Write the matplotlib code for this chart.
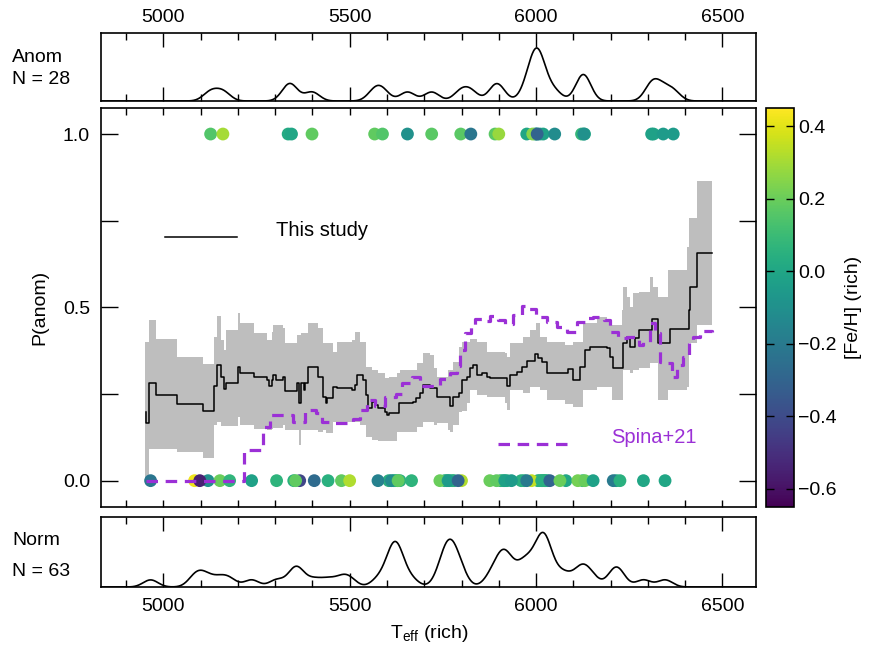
import numpy as np
import matplotlib
matplotlib.use('Agg')
import matplotlib.pyplot as plt
from matplotlib.ticker import MultipleLocator, FixedLocator

plt.rcParams['font.family'] = ['Liberation Sans', 'DejaVu Sans']
plt.rcParams['mathtext.fontset'] = 'custom'
plt.rcParams['mathtext.rm'] = 'Liberation Sans'
plt.rcParams['mathtext.it'] = 'Liberation Sans:italic'

# ---------------- data ----------------
# anomalous stars (P = 1): Teff and [Fe/H]
anom_teff = [5998, 6002, 6010, 6130, 6315,
             5127, 5160, 5335, 5344, 5399, 5567, 5588, 5655, 5720, 5798, 5825,
             5890, 5900, 5975, 5991, 6019, 6003, 6050, 6122, 6128, 6310, 6341, 6368]
anom_feh = [0.0, 0.0, 0.0, 0.0, 0.0,
            0.15, 0.30, 0.02, 0.00, 0.18, 0.18, 0.15, -0.10, 0.17, 0.17, -0.22,
            0.17, 0.28, 0.00, 0.25, -0.02, -0.30, -0.12, 0.08, -0.10, -0.02, -0.05, -0.05]

# normal stars (P = 0): Teff and [Fe/H]
norm_teff = [5350, 5605, 5618, 5622, 5628, 5635, 5755, 5760, 5768, 5775, 5780,
             5905, 5912, 5922, 5960, 5968, 6005, 6010, 6018, 6022, 6025, 6030,
             6080, 6125, 6215,
             4966, 5084, 5120, 5098, 5152, 5178, 5237, 5304, 5366, 5355, 5405,
             5442, 5478, 5500, 5576, 5612, 5630, 5666, 5742, 5764, 5800, 5791,
             5876, 5894, 5916, 5934, 5988, 5975, 6015, 6037, 6064, 6112, 6131,
             6153, 6207, 6225, 6288, 6346]
norm_feh = [0.05, 0.05, 0.05, 0.05, 0.05, 0.05, 0.05, 0.05, 0.05, 0.05, 0.05,
            0.05, 0.05, 0.05, 0.05, 0.05, 0.05, 0.05, 0.05, 0.05, 0.05, 0.05,
            0.0, 0.1, 0.0,
            -0.22, 0.42, -0.10, -0.55, 0.20, 0.07, -0.02, 0.06, -0.42, 0.18, -0.27,
            0.05, 0.18, 0.32, -0.17, -0.12, 0.18, 0.06, 0.20, -0.05, 0.32, -0.30,
            0.20, 0.18, -0.02, -0.05, 0.35, -0.20, 0.05, -0.30, 0.20, 0.22, 0.20,
            -0.02, -0.20, 0.05, 0.00, 0.00]

# "This study" running P(anom)
study_teff = [4953, 4955, 4962, 4980, 5038, 5106, 5136, 5145, 5154, 5163, 5168,
              5201, 5206, 5243, 5277, 5284, 5291, 5295, 5302, 5320, 5327, 5358,
              5363, 5369, 5377, 5381, 5389, 5416, 5429, 5436, 5440, 5456, 5467,
              5505, 5514, 5521, 5535, 5544, 5550, 5559, 5568, 5577, 5595, 5599,
              5606, 5631, 5671, 5678, 5689, 5698, 5716, 5734, 5765, 5769, 5778,
              5792, 5801, 5814, 5823, 5830, 5841, 5854, 5868, 5877, 5917, 5921,
              5930, 5948, 5962, 5975, 5998, 6006, 6015, 6029, 6087, 6100, 6118,
              6131, 6145, 6190, 6199, 6206, 6234, 6243, 6252, 6266, 6275, 6310,
              6328, 6358, 6409, 6413, 6431, 6471]
study_p = [0.199, 0.165, 0.283, 0.247, 0.221, 0.201, 0.273, 0.334, 0.300, 0.263, 0.283,
           0.329, 0.310, 0.300, 0.290, 0.273, 0.290, 0.305, 0.290, 0.300, 0.260, 0.281,
           0.225, 0.281, 0.262, 0.281, 0.329, 0.300, 0.242, 0.225, 0.238, 0.271, 0.266,
           0.262, 0.276, 0.305, 0.290, 0.247, 0.209, 0.228, 0.218, 0.209, 0.199, 0.189,
           0.194, 0.223, 0.228, 0.238, 0.252, 0.276, 0.266, 0.242, 0.240, 0.215, 0.240,
           0.252, 0.290, 0.300, 0.324, 0.334, 0.305, 0.310, 0.300, 0.295, 0.295, 0.273,
           0.305, 0.314, 0.329, 0.346, 0.365, 0.353, 0.343, 0.310, 0.322, 0.290, 0.329,
           0.377, 0.385, 0.382, 0.358, 0.324, 0.396, 0.415, 0.387, 0.411, 0.435, 0.465,
           0.396, 0.437, 0.492, 0.560, 0.656, 0.656]

# uncertainty band of "This study"
band_teff = [4950, 4953, 4962, 4980, 5038, 5106, 5136, 5145, 5154, 5163, 5168,
             5201, 5206, 5243, 5277, 5291, 5295, 5320, 5327, 5358, 5363, 5369,
             5389, 5416, 5429, 5436, 5456, 5467, 5505, 5514, 5528, 5544, 5559,
             5577, 5595, 5606, 5626, 5635, 5680, 5698, 5716, 5725, 5734, 5765,
             5769, 5778, 5792, 5801, 5814, 5823, 5841, 5868, 5917, 5921, 5930,
             5966, 5984, 6000, 6011, 6029, 6078, 6100, 6127, 6163, 6190, 6203,
             6230, 6234, 6243, 6252, 6261, 6275, 6306, 6315, 6328, 6355, 6404,
             6409, 6431, 6471]
band_hi = [0.401, 0.401, 0.463, 0.408, 0.358, 0.337, 0.415, 0.475, 0.406, 0.377, 0.435,
           0.485, 0.454, 0.425, 0.406, 0.430, 0.450, 0.440, 0.396, 0.420, 0.420, 0.425,
           0.454, 0.440, 0.396, 0.396, 0.372, 0.400, 0.406, 0.430, 0.400, 0.329, 0.319,
           0.310, 0.295, 0.300, 0.310, 0.319, 0.340, 0.367, 0.362, 0.324, 0.300, 0.319,
           0.319, 0.343, 0.387, 0.401, 0.401, 0.410, 0.400, 0.372, 0.367, 0.358, 0.396,
           0.415, 0.435, 0.454, 0.415, 0.400, 0.391, 0.400, 0.454, 0.473, 0.460, 0.449,
           0.492, 0.560, 0.531, 0.502, 0.540, 0.545, 0.588, 0.560, 0.531, 0.608, 0.675,
           0.757, 0.865, 0.865]
band_lo = [0.005, 0.010, 0.090, 0.090, 0.082, 0.064, 0.160, 0.170, 0.158, 0.158, 0.158,
           0.185, 0.160, 0.150, 0.146, 0.150, 0.152, 0.160, 0.146, 0.146, 0.103, 0.146,
           0.146, 0.140, 0.146, 0.138, 0.170, 0.170, 0.170, 0.170, 0.160, 0.127, 0.117,
           0.115, 0.113, 0.113, 0.141, 0.141, 0.156, 0.170, 0.170, 0.160, 0.165, 0.146,
           0.141, 0.160, 0.199, 0.200, 0.223, 0.262, 0.247, 0.240, 0.223, 0.204, 0.262,
           0.252, 0.271, 0.271, 0.262, 0.233, 0.220, 0.213, 0.262, 0.271, 0.271, 0.233,
           0.233, 0.319, 0.319, 0.310, 0.319, 0.325, 0.338, 0.338, 0.233, 0.262, 0.271,
           0.396, 0.449, 0.449]

# Spina+21 relation
spina_teff = [4953, 5216, 5268, 5286, 5349, 5380, 5411, 5425, 5456, 5510, 5528,
              5546, 5568, 5595, 5625, 5640, 5666, 5690, 5716, 5742, 5769, 5787,
              5796, 5810, 5825, 5836, 5859, 5877, 5899, 5917, 5939, 5962, 5980,
              6000, 6029, 6056, 6082, 6109, 6136, 6154, 6181, 6199, 6221, 6243,
              6275, 6288, 6306, 6319, 6333, 6351, 6364, 6377, 6395, 6409, 6422,
              6440, 6471]
spina_p = [0.000, 0.087, 0.156, 0.190, 0.170, 0.204, 0.195, 0.170, 0.165, 0.178, 0.204,
           0.233, 0.215, 0.240, 0.250, 0.283, 0.298, 0.272, 0.273, 0.293, 0.310, 0.330,
           0.377, 0.425, 0.450, 0.465, 0.462, 0.476, 0.464, 0.452, 0.478, 0.505, 0.495,
           0.473, 0.459, 0.444, 0.430, 0.459, 0.468, 0.473, 0.464, 0.430, 0.411, 0.415,
           0.391, 0.401, 0.454, 0.425, 0.343, 0.339, 0.300, 0.334, 0.358, 0.406, 0.415,
           0.432, 0.430]

n_anom_label = "N = 28"
n_norm_label = "N = 63"
KDE_BW = 20.0

# ---------------- figure ----------------
XLIM = (4833, 6590)
FS = 14
fig = plt.figure(figsize=(8.73, 6.5), dpi=100)
L, W = 0.1157, 0.7503
ax = fig.add_axes([L, 0.22, W, 0.6138])
axt = fig.add_axes([L, 0.8446, W, 0.1046])
axb = fig.add_axes([L, 0.0969, W, 0.1077])
cax = fig.add_axes([0.8774, 0.22, 0.0321, 0.6138])

for a in (ax, axt, axb):
    for s in a.spines.values():
        s.set_linewidth(1.2)
    a.set_xlim(*XLIM)

# main panel
ax.fill_between(band_teff, band_lo, band_hi, step='post', color='#bebebe',
                lw=0, zorder=1)
cmap = plt.get_cmap('viridis')
vmin, vmax = -0.65, 0.45
ax.scatter(norm_teff, np.zeros(len(norm_teff)), c=norm_feh, cmap=cmap,
           vmin=vmin, vmax=vmax, s=85, lw=0, zorder=2)
sc = ax.scatter(anom_teff, np.ones(len(anom_teff)), c=anom_feh, cmap=cmap,
                vmin=vmin, vmax=vmax, s=85, lw=0, zorder=2)
ax.plot(study_teff, study_p, drawstyle='steps-post', color='black', lw=1.1,
        zorder=3)
purple = '#9b30d6'
ax.plot(spina_teff, spina_p, drawstyle='steps-post', color=purple, lw=2.3,
        ls=(0, (3.6, 2.4)), zorder=4)
ax.set_ylim(-0.076, 1.075)

# legend-like annotations
ax.plot([0.098, 0.208], [0.677, 0.677], transform=ax.transAxes, color='black',
        lw=1.1)
ax.text(0.267, 0.692, 'This study', transform=ax.transAxes, fontsize=FS + 0.5,
        va='center', ha='left')
ax.plot([0.606, 0.719], [0.158, 0.158], transform=ax.transAxes, color=purple,
        lw=2.3, ls=(0, (3.6, 2.4)))
ax.text(0.779, 0.173, 'Spina+21', transform=ax.transAxes, fontsize=FS + 0.5,
        va='center', ha='left', color=purple)

ax.xaxis.set_major_locator(MultipleLocator(100))
ax.tick_params(axis='x', direction='in', length=5, width=1, top=True,
               bottom=True, labelbottom=False, labeltop=False)
ax.yaxis.set_major_locator(FixedLocator([0.0, 0.5, 1.0]))
ax.yaxis.set_minor_locator(FixedLocator([0.25, 0.75]))
ax.set_yticklabels(['0.0', '0.5', '1.0'])
ax.tick_params(axis='y', which='both', direction='in', length=12, width=1,
               left=True, right=True, labelsize=FS, pad=8)

# KDE panels
grid = np.linspace(XLIM[0], XLIM[1], 1500)

def kde(vals):
    v = np.asarray(vals, float)
    return np.exp(-0.5 * ((grid[:, None] - v[None, :]) / KDE_BW) ** 2).sum(axis=1)

for a, vals in ((axt, anom_teff), (axb, norm_teff)):
    d = kde(vals)
    a.plot(grid, d, color='black', lw=1.2)
    a.set_ylim(0, d.max() / 0.78)
    a.set_yticks([])
    a.xaxis.set_major_locator(MultipleLocator(500))
    a.xaxis.set_minor_locator(MultipleLocator(100))
    a.tick_params(axis='x', which='major', direction='in', length=10, width=1,
                  top=True, bottom=True, labelsize=FS)
    a.tick_params(axis='x', which='minor', direction='in', length=5, width=1,
                  top=True, bottom=True)

axt.tick_params(axis='x', labeltop=True, labelbottom=False, pad=5)
axb.tick_params(axis='x', labeltop=False, labelbottom=True, pad=8)

# colorbar
cb = fig.colorbar(sc, cax=cax)
cb.set_ticks([-0.6, -0.4, -0.2, 0.0, 0.2, 0.4])
cb.outline.set_linewidth(1.2)
cax.tick_params(direction='in', length=6, width=1, left=True, right=True,
                labelsize=FS, pad=3)

# texts
fig.text(0.0137, 0.912, 'Anom', fontsize=FS, va='center', ha='left')
fig.text(0.0137, 0.877, n_anom_label, fontsize=FS, va='center', ha='left')
fig.text(0.0137, 0.168, 'Norm', fontsize=FS, va='center', ha='left')
fig.text(0.0137, 0.120, n_norm_label, fontsize=FS, va='center', ha='left')
fig.text(0.046, 0.527, 'P(anom)', fontsize=FS, va='center', ha='center',
         rotation=90)
fig.text(0.492, 0.026, r'T$_{\rm eff}$ (rich)', fontsize=FS, va='center',
         ha='center')
fig.text(0.978, 0.527, '[Fe/H] (rich)', fontsize=FS, va='center', ha='center',
         rotation=90)

fig.savefig('out.png', dpi=100)
